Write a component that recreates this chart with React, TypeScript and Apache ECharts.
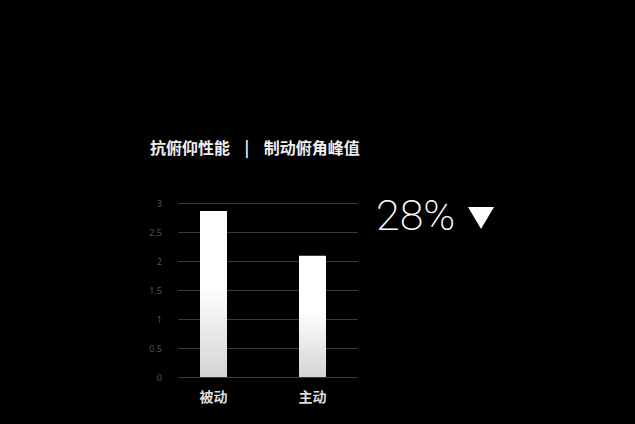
import { useRef, useEffect } from "react";
import * as echarts from "echarts";

const CATEGORIES = ["被动", "主动"];
const PEAK_VALUES = [2.86, 2.09];
const Y_MIN = 0;
const Y_MAX = 3;
const Y_STEP = 0.5;
const TITLE = "抗俯仰性能    |    制动俯角峰值";
const CHANGE_LABEL = "28%";

export default function App() {
  const chartRef = useRef<HTMLDivElement>(null);

  useEffect(() => {
    if (!chartRef.current) return;
    const chart = echarts.init(chartRef.current, null, { renderer: "svg" });
    const option: echarts.EChartsOption = {
      animation: false,
      backgroundColor: "#000000",
      title: {
        text: TITLE,
        left: 145,
        top: 134,
        textStyle: { color: "#eeeeee", fontSize: 16, fontWeight: "bold", fontFamily: "Noto Sans CJK SC" },
      },
      graphic: [
        {
          type: "text",
          left: 376,
          top: 193,
          style: {
            text: CHANGE_LABEL,
            fill: "#ffffff",
            fontSize: 43,
            fontWeight: 200,
            fontFamily: "Roboto",
          },
        },
        {
          type: "polygon",
          shape: { points: [[468, 207], [494, 207], [481, 229]] },
          style: { fill: "#ffffff" },
        },
      ],
      grid: [
        { left: 178, right: 277, top: 203, bottom: 47 },
        { left: 164, right: 273, top: 203, bottom: 47 },
      ],
      xAxis: [
        { type: "category", gridIndex: 0, data: CATEGORIES, show: false },
        {
          type: "category",
          gridIndex: 1,
          data: CATEGORIES,
          axisLine: { show: false },
          axisTick: { show: false },
          axisLabel: { color: "#dddddd", fontSize: 14, fontWeight: "bold", margin: 12, fontFamily: "Noto Sans CJK SC" },
        },
      ],
      yAxis: [
        {
          type: "value",
          gridIndex: 0,
          min: Y_MIN,
          max: Y_MAX,
          interval: Y_STEP,
          axisLine: { show: false },
          axisTick: { show: false },
          axisLabel: { color: "#555555", fontSize: 9, margin: 16, fontFamily: "Noto Sans" },
          splitLine: { lineStyle: { color: "#3a3a3a", width: 1 } },
        },
        {
          type: "value",
          gridIndex: 1,
          min: Y_MIN,
          max: Y_MAX,
          interval: Y_STEP,
          show: false,
          splitLine: { show: false },
        },
      ],
      series: [
        {
          type: "bar",
          xAxisIndex: 1,
          yAxisIndex: 1,
          data: PEAK_VALUES,
          barWidth: 27,
          itemStyle: {
            color: new echarts.graphic.LinearGradient(0, 0, 0, 1, [
              { offset: 0, color: "#ffffff" },
              { offset: 0.45, color: "#ffffff" },
              { offset: 1, color: "#d4d4d4" },
            ]),
          },
        },
      ],
    };
    chart.setOption(option);
    return () => chart.dispose();
  }, []);

  return <div ref={chartRef} style={{ position: "fixed", left: 0, top: 0, width: 635, height: 424 }} />;
}
